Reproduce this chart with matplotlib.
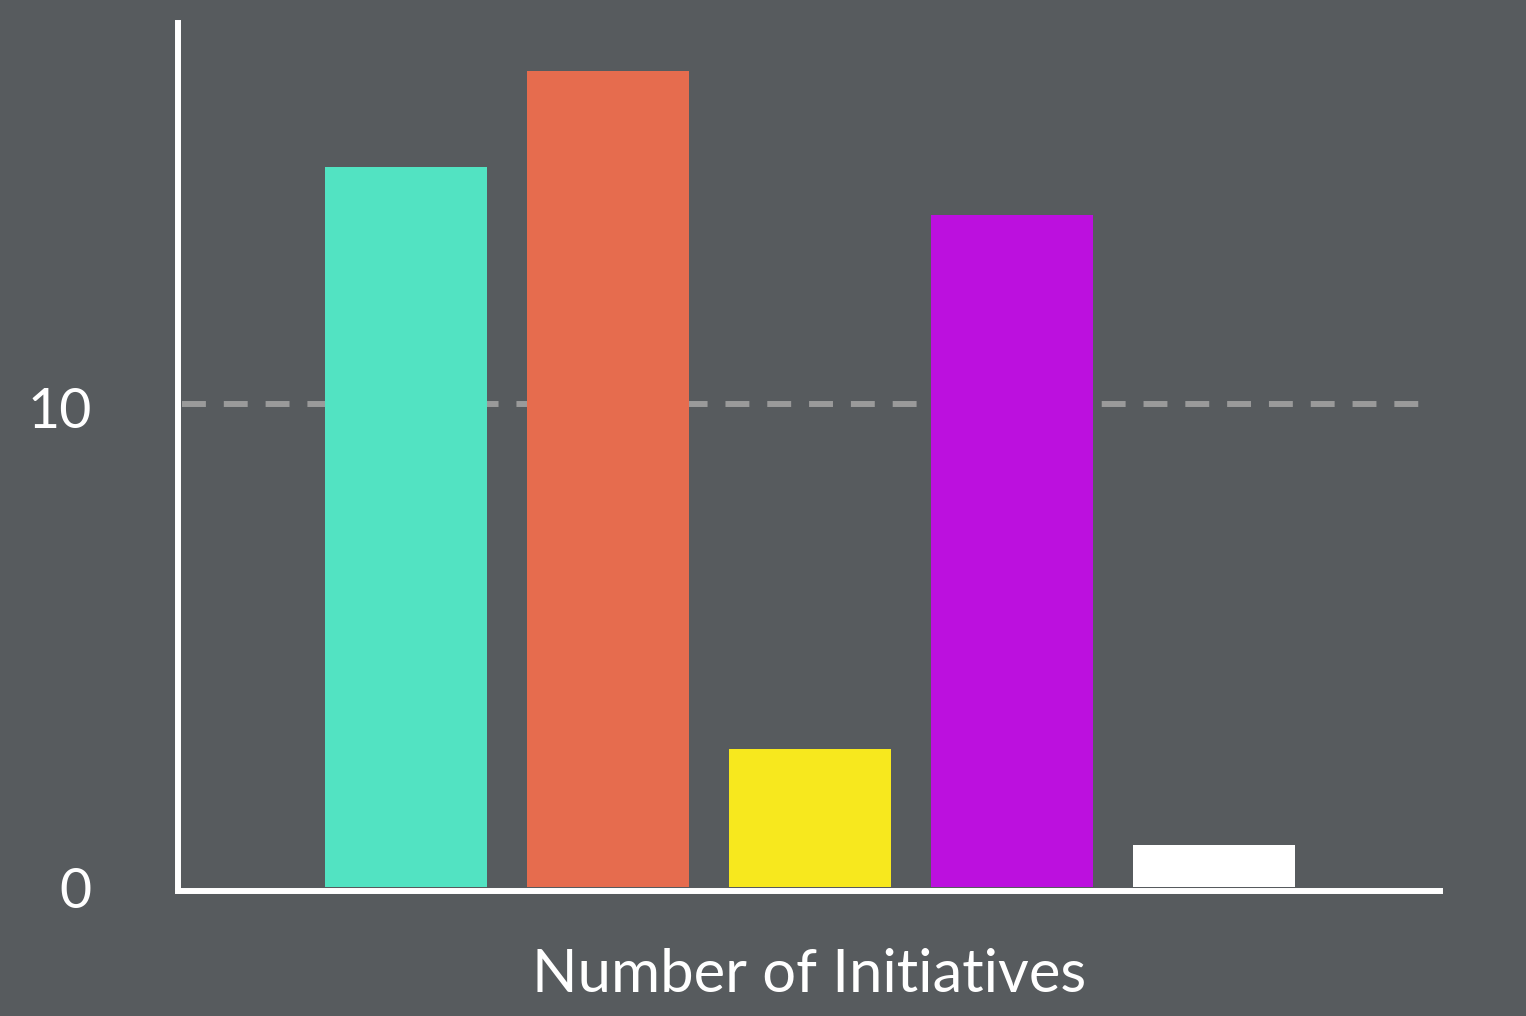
import matplotlib
matplotlib.use("Agg")
import matplotlib.pyplot as plt

# data
categories = ["A", "B", "C", "D", "E"]
values = [15, 17, 2.88, 14, 0.88]
colors = ["#52e3c2", "#e66c4e", "#f7e81e", "#bc10de", "#ffffff"]
yticks = [0, 10]

bg = "#575b5e"
plt.rcParams["font.family"] = ["Lato", "DejaVu Sans"]

fig = plt.figure(figsize=(15.26, 10.16), dpi=100, facecolor=bg)
ax = fig.add_axes([178 / 1526, 1 - 887 / 1016, (1440 - 178) / 1526, (887 - 23) / 1016])
ax.set_facecolor(bg)

x = range(len(categories))
ax.bar(x, values, width=0.8, color=colors, zorder=3)

# dashed reference line at 10
ax.plot([-1.11, 5.03], [10.06, 10.06], color="#9a9a9a", lw=4.3, dashes=(4.0, 3.0), zorder=1)

ax.set_xlim(-1.13, 5.12)
ax.set_ylim(0, 18)

ax.set_xticks([])
ax.set_yticks(yticks)
ax.set_yticklabels([str(t) for t in yticks], color="white", fontsize=40)
ax.tick_params(axis="y", length=0, pad=62)

for s in ["top", "right"]:
    ax.spines[s].set_visible(False)
ax.spines["left"].set_color("white")
ax.spines["left"].set_linewidth(4.3)
ax.spines["bottom"].set_color("white")
ax.spines["bottom"].set_linewidth(4.3)
ax.spines["bottom"].set_position(("outward", 3))

ax.set_xlabel("Number of Initiatives", color="white", fontsize=43, labelpad=41)

fig.savefig("out.png", dpi=100, facecolor=bg)
